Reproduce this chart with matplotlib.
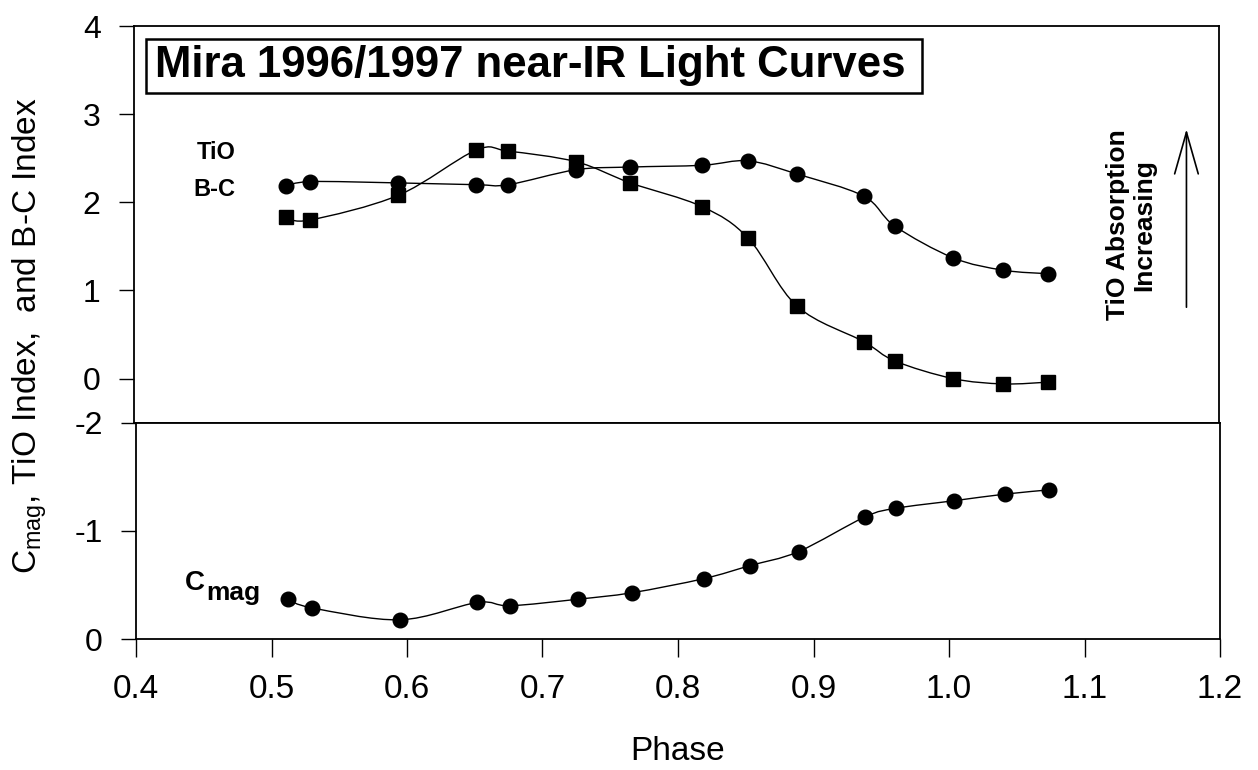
import numpy as np
import matplotlib
matplotlib.use("Agg")
import matplotlib.pyplot as plt
from matplotlib.path import Path
from matplotlib.patches import PathPatch, Rectangle

# ---------------- data ----------------
phase = [0.512, 0.530, 0.595, 0.652, 0.676, 0.726, 0.766, 0.819,
         0.853, 0.889, 0.938, 0.961, 1.004, 1.041, 1.074]
tio_index = [2.18, 2.235, 2.22, 2.20, 2.20, 2.37, 2.40, 2.42,
             2.47, 2.32, 2.07, 1.73, 1.37, 1.23, 1.19]
bc_index = [1.83, 1.80, 2.08, 2.59, 2.58, 2.46, 2.22, 1.95,
            1.59, 0.82, 0.42, 0.20, 0.00, -0.06, -0.04]
cmag = [-0.37, -0.29, -0.18, -0.34, -0.31, -0.37, -0.43, -0.56,
        -0.68, -0.81, -1.13, -1.21, -1.28, -1.34, -1.38]

top_yticks = [0, 1, 2, 3, 4]
bot_yticks = [-2, -1, 0]
xticks = [0.4, 0.5, 0.6, 0.7, 0.8, 0.9, 1.0, 1.1, 1.2]

title = "Mira 1996/1997 near-IR Light Curves"

# ---------------- style ----------------
FONT = "Liberation Sans"
plt.rcParams["font.family"] = [FONT, "DejaVu Sans"]
plt.rcParams["axes.unicode_minus"] = False
plt.rcParams["mathtext.fontset"] = "custom"
plt.rcParams["mathtext.rm"] = FONT
plt.rcParams["mathtext.bf"] = FONT + ":bold"
plt.rcParams["mathtext.it"] = FONT + ":italic"

W, H = 1258, 770
fig = plt.figure(figsize=(W / 100, H / 100), dpi=100)


def fx(px):
    return px / W


def fy(py):
    return 1 - py / H


ax_t = fig.add_axes([fx(134), fy(422.7), fx(1219) - fx(134), fy(26) - fy(422.7)])
ax_b = fig.add_axes([fx(136), fy(639.3), fx(1220) - fx(136), fy(422.7) - fy(639.3)])


def smooth_path(x, y):
    pts = np.column_stack([x, y]).astype(float)
    n = len(pts)
    verts = [pts[0]]
    codes = [Path.MOVETO]
    for i in range(n - 1):
        p0 = pts[i - 1] if i > 0 else pts[i]
        p1 = pts[i]
        p2 = pts[i + 1]
        p3 = pts[i + 2] if i + 2 < n else pts[i + 1]
        c1 = p1 + (p2 - p0) / 6.0
        c2 = p2 - (p3 - p1) / 6.0
        verts += [c1, c2, p2]
        codes += [Path.CURVE4] * 3
    return Path(verts, codes)


def draw_series(ax, x, y, marker, ms):
    ax.add_patch(PathPatch(smooth_path(x, y), fill=False, ec="black", lw=1.0, zorder=2))
    ax.plot(x, y, linestyle="none", marker=marker, ms=ms, color="black",
            mec="black", zorder=3)


# top panel
draw_series(ax_t, phase, tio_index, "o", 10.5)
draw_series(ax_t, phase, bc_index, "s", 9.5)
ax_t.set_xlim(0.4, 1.2)
ax_t.set_ylim(-0.5, 4)
ax_t.set_yticks(top_yticks)
ax_t.set_yticklabels([str(v) for v in top_yticks])
ax_t.tick_params(axis="x", bottom=False, labelbottom=False)
ax_t.tick_params(axis="y", direction="out", length=11, width=1.0, pad=13,
                 labelsize=23)

# bottom panel
draw_series(ax_b, phase, cmag, "o", 10.5)
ax_b.set_xlim(0.4, 1.2)
ax_b.set_ylim(0, -2)
ax_b.set_yticks(bot_yticks)
ax_b.set_yticklabels([str(v) for v in bot_yticks])
ax_b.set_xticks(xticks)
ax_b.set_xticklabels(["%.1f" % v for v in xticks])
ax_b.tick_params(axis="y", direction="out", length=11, width=1.0, pad=13,
                 labelsize=23)
ax_b.tick_params(axis="x", direction="out", length=13, width=1.0, pad=12,
                 labelsize=24)

for ax in (ax_t, ax_b):
    for s in ax.spines.values():
        s.set_linewidth(1.3)

# axis labels
ax_b.set_xlabel("Phase", fontsize=24, labelpad=22)
fig.text(fx(30), fy(336), r"C$_{\mathrm{mag}}$, TiO Index,  and B-C Index",
         rotation=90, ha="center", va="center", fontsize=24)

# series labels
ax_t.text(0.475, 2.56, "TiO", ha="right", va="center", fontsize=17,
          fontweight="bold")
ax_t.text(0.475, 2.15, "B-C", ha="right", va="center", fontsize=17,
          fontweight="bold")
c_lab = ax_b.text(0.436, -0.52, "C", ha="left", va="center", fontsize=20,
                  fontweight="bold")
ax_b.annotate("mag", xy=(1.05, 0.12), xycoords=c_lab, ha="left", va="center",
              fontsize=19, fontweight="bold")

# arrow + annotation
ax_t.annotate("", xy=(1.176, 2.83), xytext=(1.176, 0.81),
              arrowprops=dict(arrowstyle="->,head_length=3.0,head_width=0.85",
                              mutation_scale=10, lw=1.2, color="black",
                              shrinkA=0, shrinkB=0))
fig.text(fx(1131), fy(225), "TiO Absorption\nIncreasing", rotation=90,
         ha="center", va="center", fontsize=19, fontweight="bold",
         multialignment="center", linespacing=1.15)

# title box
fig.add_artist(Rectangle((fx(146), fy(93)), fx(922) - fx(146), fy(39) - fy(93),
                         transform=fig.transFigure, fc="white", ec="black",
                         lw=1.8, zorder=1))
fig.text(fx(530), fy(66), title, ha="center", va="center", fontsize=31.5,
         fontweight="bold", zorder=3)

fig.savefig("out.png", dpi=100)
